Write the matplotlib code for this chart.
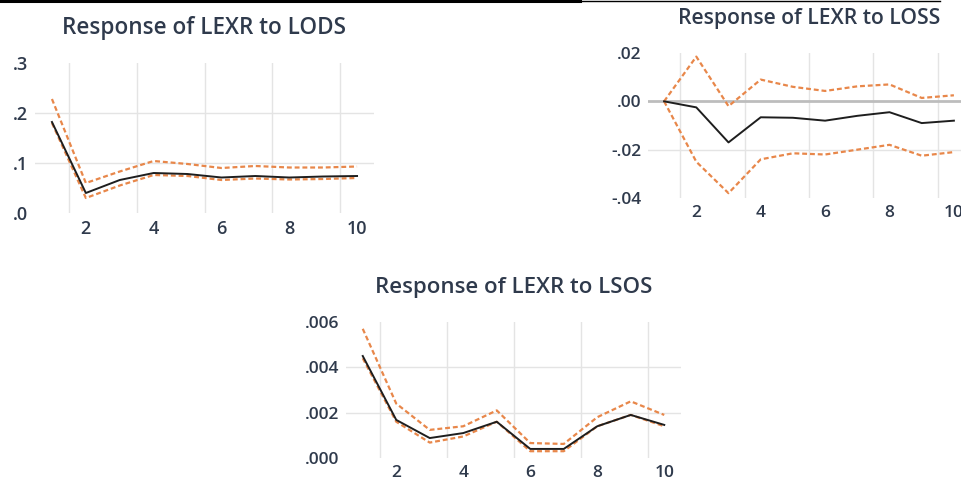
import matplotlib
matplotlib.use("Agg")
import matplotlib.pyplot as plt
from matplotlib.lines import Line2D

plt.rcParams['font.family'] = ['Open Sans', 'DejaVu Sans']

periods = [1, 2, 3, 4, 5, 6, 7, 8, 9, 10]
tick_periods = [2, 4, 6, 8, 10]

# Response of LEXR to LODS
lods_resp = [0.182, 0.040, 0.066, 0.080, 0.078, 0.071, 0.074, 0.071, 0.073, 0.074]
lods_upper = [0.228, 0.060, 0.083, 0.104, 0.098, 0.090, 0.094, 0.091, 0.091, 0.093]
lods_lower = [0.180, 0.030, 0.055, 0.076, 0.074, 0.066, 0.069, 0.067, 0.068, 0.070]
lods_yticks = [0.0, 0.1, 0.2, 0.3]
lods_ylabels = ['.0', '.1', '.2', '.3']

# Response of LEXR to LOSS
loss_resp = [0.0, -0.0025, -0.017, -0.0066, -0.0068, -0.008, -0.006, -0.0045, -0.009, -0.008]
loss_upper = [0.0, 0.0185, -0.002, 0.009, 0.006, 0.0043, 0.0062, 0.007, 0.0014, 0.0025]
loss_lower = [0.0, -0.025, -0.038, -0.024, -0.0215, -0.022, -0.020, -0.018, -0.0225, -0.021]
loss_yticks = [-0.04, -0.02, 0.0, 0.02]
loss_ylabels = ['-.04', '-.02', '.00', '.02']

# Response of LEXR to LSOS
lsos_resp = [0.0045, 0.00168, 0.00088, 0.0011, 0.0016, 0.0004, 0.0004, 0.0014, 0.0019, 0.00146]
lsos_upper = [0.0057, 0.0024, 0.00124, 0.0014, 0.0021, 0.00066, 0.00062, 0.0018, 0.0025, 0.0019]
lsos_lower = [0.0044, 0.0016, 0.00068, 0.00095, 0.0016, 0.0003, 0.0003, 0.0014, 0.0019, 0.0014]
lsos_yticks = [0.0, 0.002, 0.004, 0.006]
lsos_ylabels = ['.000', '.002', '.004', '.006']

TEXT = '#2f3a4c'
ORANGE = '#e8874a'
GRID = '#e4e4e4'

fig = plt.figure(figsize=(9.62, 4.84), dpi=100)
W, H = 962.0, 484.0


def make_ax(left, right, top, bottom):
    return fig.add_axes([left / W, 1 - bottom / H, (right - left) / W, (bottom - top) / H])


panels = [
    dict(box=(35, 374, 63, 213), title='Response of LEXR to LODS', tw=284,
         resp=lods_resp, up=lods_upper, lo=lods_lower, yt=lods_yticks, yl=lods_ylabels,
         zero=False, fs=13),
    dict(box=(648, 970, 53, 198), title='Response of LEXR to LOSS', tw=262,
         resp=loss_resp, up=loss_upper, lo=loss_lower, yt=loss_yticks, yl=loss_ylabels,
         zero=True, fs=12.5),
    dict(box=(346, 681, 322, 458), title='Response of LEXR to LSOS', tw=277,
         resp=lsos_resp, up=lsos_upper, lo=lsos_lower, yt=lsos_yticks, yl=lsos_ylabels,
         zero=False, fs=12.5),
]

renderer = fig.canvas.get_renderer()
for p in panels:
    ax = make_ax(*p['box'])
    ax.set_xlim(0.5, 10.5)
    ax.set_ylim(p['yt'][0], p['yt'][-1])
    for s in ax.spines.values():
        s.set_visible(False)
    # vertical grid between observations
    for xg in [t - 0.5 for t in tick_periods]:
        ax.axvline(xg, color=GRID, lw=1.0, zorder=0)
    for yg in p['yt'][1:-1]:
        if p['zero'] and yg == 0.0:
            ax.axhline(yg, color='#bdbdbd', lw=2.0, zorder=1)
        else:
            ax.axhline(yg, color=GRID, lw=1.0, zorder=0)
    ax.plot(periods, p['up'], color=ORANGE, lw=1.6, dashes=(2.2, 1.3), zorder=3)
    ax.plot(periods, p['lo'], color=ORANGE, lw=1.6, dashes=(2.2, 1.3), zorder=3)
    ax.plot(periods, p['resp'], color='#1e1e1e', lw=1.4, zorder=4)
    ax.set_xticks(tick_periods)
    ax.set_xticklabels([str(t) for t in tick_periods])
    ax.set_yticks(p['yt'])
    ax.set_yticklabels(p['yl'])
    ax.tick_params(length=0, labelsize=p['fs'], labelcolor=TEXT, pad=5)
    for lab in ax.get_xticklabels() + ax.get_yticklabels():
        lab.set_fontweight('semibold')
    t = ax.set_title(p['title'], pad=21, fontsize=13, color=TEXT, fontweight='semibold')
    w = t.get_window_extent(renderer).width
    t.set_fontsize(13 * p['tw'] / w)

# black rules at the top edge of the image
fig.add_artist(Line2D([0, 580 / W], [1 - 1 / H, 1 - 1 / H], color='black', lw=2.2,
                      transform=fig.transFigure))
fig.add_artist(Line2D([580 / W, 940 / W], [1 - 0.5 / H, 1 - 0.5 / H], color='black', lw=1.0,
                      transform=fig.transFigure))

fig.savefig('out.png', dpi=100)
